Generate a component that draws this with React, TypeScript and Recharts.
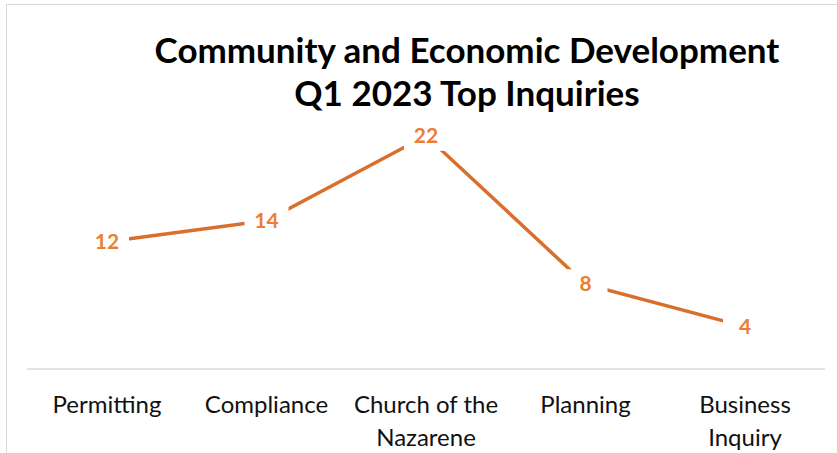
import React from "react"
import { LineChart, Line, XAxis, YAxis, LabelList } from "recharts"

const categories = ["Permitting", "Compliance", "Church of the\nNazarene", "Planning", "Business\nInquiry"]
const inquiries = [12, 14, 22, 8, 4]
const titleLines = ["Community and Economic Development", "Q1 2023 Top Inquiries"]

const data = categories.map((name, i) => ({ name, value: inquiries[i] }))

const FONT = "Lato, 'Open Sans', sans-serif"
const LINE_COLOR = "#DA6E2B"
const LABEL_COLOR = "#ED7D31"

function CategoryTick(props: any) {
  const { x, y, payload } = props
  const lines = String(payload.value).split("\n")
  return (
    <text x={x} y={y} textAnchor="middle" fontFamily={FONT} fontSize={24} fill="#111">
      {lines.map((l, i) => (
        <tspan key={i} x={x} dy={i === 0 ? 36 : 33}>
          {l}
        </tspan>
      ))}
    </text>
  )
}

function PointLabel(props: any) {
  const { x, y, value } = props
  return (
    <g>
      <rect x={x - 22} y={y - 15} width={44} height={30} fill="#fff" />
      <text x={x} y={y + 7} textAnchor="middle" fontFamily={FONT} fontWeight={700} fontSize={21} fill={LABEL_COLOR}>
        {value}
      </text>
    </g>
  )
}

export default function App() {
  return (
    <div style={{ position: "absolute", left: 0, top: 0, width: 837, height: 453, overflow: "hidden", background: "#fff" }}>
      <div
        style={{
          position: "absolute",
          left: 6,
          top: 4,
          width: 900,
          height: 500,
          border: "1px solid #d9d9d9",
          borderRightWidth: 0,
          borderBottomWidth: 0,
        }}
      />
      <svg width={837} height={120} style={{ position: "absolute", left: 0, top: 0 }}>
        <text x={467} y={63} textAnchor="middle" fontFamily={FONT} fontWeight={700} fontSize={35} fill="#000">
          {titleLines[0]}
        </text>
        <text x={467} y={106} textAnchor="middle" fontFamily={FONT} fontWeight={700} fontSize={35} fill="#000">
          {titleLines[1]}
        </text>
      </svg>
      <div style={{ position: "absolute", left: 0, top: 0 }}>
        <LineChart width={837} height={453} data={data} margin={{ top: 104, right: 12, left: 27, bottom: 0 }}>
          <XAxis
            dataKey="name"
            height={84}
            interval={0}
            padding={{ left: 80, right: 80 }}
            tickLine={false}
            axisLine={{ stroke: "#d9d9d9", strokeWidth: 1.5 }}
            tick={<CategoryTick />}
          />
          <YAxis hide domain={[0, 25]} />
          <Line
            dataKey="value"
            stroke={LINE_COLOR}
            strokeWidth={3.5}
            dot={false}
            activeDot={false}
            isAnimationActive={false}
          >
            <LabelList dataKey="value" content={<PointLabel />} />
          </Line>
        </LineChart>
      </div>
    </div>
  )
}
